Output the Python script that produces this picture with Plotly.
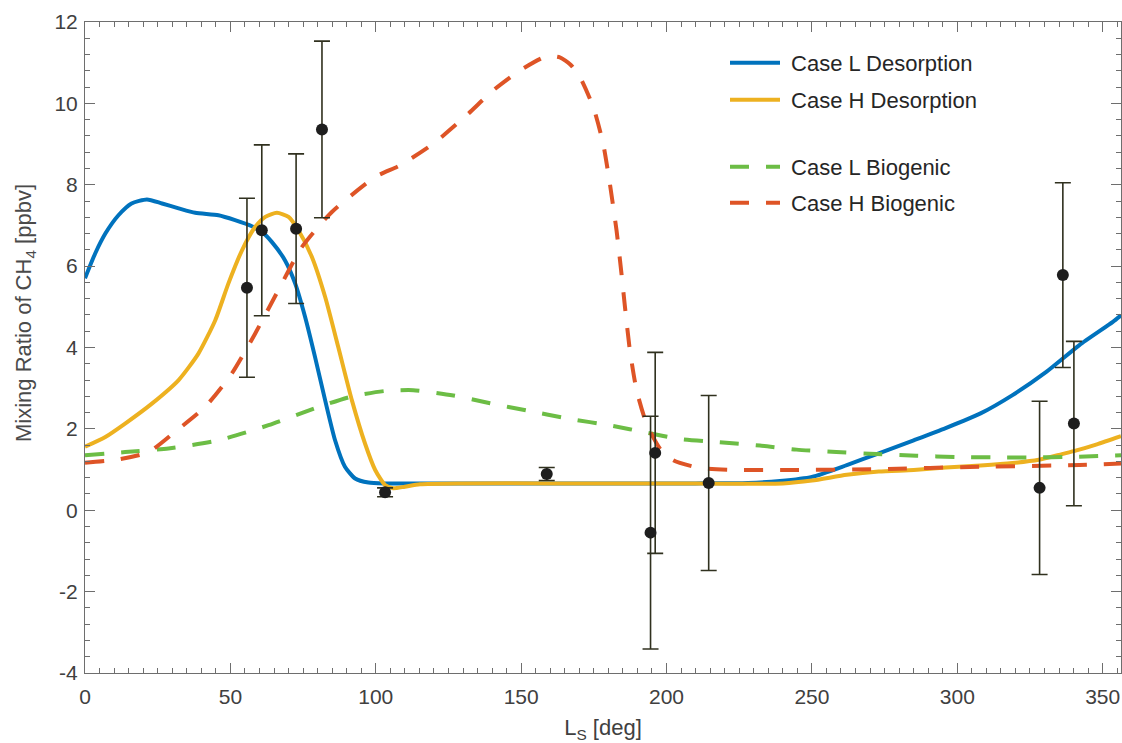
import plotly.graph_objects as go

# ---------------- data ----------------
ls_blue = [0, 3.5, 7, 11.5, 16, 21.3, 26.5, 32.2, 37.9, 45.9, 51.6, 57.4, 60.8, 64.3, 68.8,
           72.3, 75.7, 79.1, 82.6, 86, 89.4, 92.9, 97.5, 103, 120, 150, 180, 210, 228, 239,
           250, 262, 273, 285, 296, 308, 319, 330.6, 342, 353.5, 356.3]
l_desorption = [5.70, 6.31, 6.80, 7.25, 7.54, 7.64, 7.54, 7.42, 7.31, 7.25, 7.13, 6.98, 6.84, 6.59, 6.14,
                5.57, 4.75, 3.77, 2.70, 1.72, 1.07, 0.78, 0.68, 0.66, 0.66, 0.66, 0.66, 0.66, 0.67, 0.72,
                0.82, 1.11, 1.40, 1.72, 2.02, 2.38, 2.83, 3.40, 4.06, 4.63, 4.79]

ls_orange = [0, 7, 13.8, 23, 32.2, 39, 44.8, 49.3, 54, 58.5, 62, 66, 70, 73.4, 78, 82.6, 87.1,
             91.8, 96.3, 99.8, 103.2, 106, 110, 115.2, 130, 160, 200, 240, 250, 262, 273, 285,
             296, 308, 319, 328, 336, 341, 348, 356.3]
h_desorption = [1.56, 1.80, 2.13, 2.62, 3.20, 3.85, 4.67, 5.57, 6.39, 6.96, 7.21, 7.31, 7.21, 6.88, 6.23,
                5.24, 4.01, 2.70, 1.64, 0.99, 0.62, 0.54, 0.58, 0.64, 0.66, 0.66, 0.66, 0.66, 0.73, 0.87,
                0.95, 0.99, 1.05, 1.10, 1.16, 1.24, 1.38, 1.47, 1.62, 1.82]

ls_green = [0, 13.8, 28.7, 45.9, 63.1, 80.3, 92, 103, 112.9, 126.7, 139.3, 152, 165.6, 181.7,
            193.1, 204.6, 218.3, 232.1, 244.7, 258.4, 272.2, 285.9, 299.7, 313.4, 326, 338.6, 356.3]
l_biogenic = [1.35, 1.43, 1.52, 1.72, 2.09, 2.54, 2.80, 2.93, 2.95, 2.82, 2.63, 2.45, 2.26, 2.07,
              1.91, 1.75, 1.67, 1.59, 1.49, 1.43, 1.38, 1.34, 1.31, 1.30, 1.30, 1.31, 1.35]

ls_red = [0, 11.5, 21.9, 31, 41.3, 50.5, 58.5, 66.5, 74.6, 84.9, 99.8, 108.4, 119.8, 131.3, 140.4,
          149.6, 158.8, 163.3, 167, 170.2, 174.8, 178.2, 180.5, 182.8, 184.5, 185.7, 187.4, 189.7,
          193.1, 197.7, 202.3, 211.4, 222.9, 243.5, 273.3, 307.7, 342, 356.3]
h_biogenic = [1.17, 1.25, 1.43, 1.93, 2.54, 3.36, 4.34, 5.41, 6.47, 7.33, 8.19, 8.48, 9.01, 9.71, 10.32,
              10.81, 11.16, 11.13, 10.95, 10.65, 9.91, 9.01, 8.03, 6.88, 5.82, 5.00, 3.93, 2.95,
              2.13, 1.52, 1.23, 1.04, 0.99, 0.99, 1.01, 1.07, 1.11, 1.15]

obs_ls = [55.7, 60.8, 72.6, 81.5, 103.2, 158.8, 194.5, 196.1, 214.5, 328.3, 336.3, 340.1]
obs_ch4 = [5.47, 6.88, 6.92, 9.36, 0.44, 0.89, -0.55, 1.41, 0.67, 0.55, 5.78, 2.13]
obs_err = [2.20, 2.10, 1.84, 2.17, 0.11, 0.16, 2.86, 2.47, 2.15, 2.13, 2.27, 2.02]

x_ticks = [0, 50, 100, 150, 200, 250, 300, 350]
y_ticks = [-4, -2, 0, 2, 4, 6, 8, 10, 12]

# ---------------- style ----------------
BLUE, ORANGE, GREEN, RED = "#0072BD", "#EDB120", "#6cbd45", "#DE5426"
FONT = "Liberation Sans, Arial, Helvetica, sans-serif"
AX = "#6e6e6e"
DASH = "19px,17px"

W, H = 1122, 743
ML, MR, MT, MB = 85, 1, 22, 70
PW = W - ML - MR
PH = H - MT - MB

fig = go.Figure()
curves = [
    (ls_blue, l_desorption, "Case L Desorption", BLUE, "solid", "legend"),
    (ls_orange, h_desorption, "Case H Desorption", ORANGE, "solid", "legend2"),
    (ls_green, l_biogenic, "Case L Biogenic", GREEN, DASH, "legend3"),
    (ls_red, h_biogenic, "Case H Biogenic", RED, DASH, "legend4"),
]
for xs, ys, name, col, dash, leg in curves:
    fig.add_trace(go.Scatter(
        x=xs, y=ys, name="\u00a0" + name, mode="lines",
        line=dict(color=col, width=4, dash=dash, shape="spline", smoothing=0.6),
        legend=leg,
    ))

fig.add_trace(go.Scatter(
    x=obs_ls, y=obs_ch4, mode="markers", showlegend=False,
    marker=dict(color="#1e1e1e", size=12),
    error_y=dict(type="data", array=obs_err, visible=True, color="#30311f", thickness=1.6, width=8),
))

def px(p):   # page pixel x -> paper x
    return (p - ML) / PW
def py(p):   # page pixel y -> paper y
    return (H - MB - p) / PH

leg_common = dict(xanchor="left", yanchor="middle", bgcolor="rgba(0,0,0,0)",
                  font=dict(family=FONT, size=22, color="#262626"), itemwidth=50,
                  borderwidth=0)
lx = px(725)

fig.update_layout(
    width=W, height=H,
    margin=dict(l=ML, r=MR, t=MT, b=MB),
    paper_bgcolor="white", plot_bgcolor="white",
    font=dict(family=FONT, color="#404040"),
    legend=dict(x=lx, y=py(63), **leg_common),
    legend2=dict(x=lx, y=py(100), **leg_common),
    legend3=dict(x=lx, y=py(167), **leg_common),
    legend4=dict(x=lx, y=py(203), **leg_common),
    xaxis=dict(
        range=[0, 356.3], tickvals=x_ticks, ticktext=[str(v) for v in x_ticks],
        ticks="inside", ticklen=10, tickcolor=AX, tickwidth=1,
        showline=True, linecolor=AX, linewidth=1, mirror="ticks",
        showgrid=False, zeroline=False,
        minor=dict(dtick=5, ticklen=5, tickcolor=AX, ticks="inside", showgrid=False),
        tickfont=dict(size=21, color="#404040"), ticklabelstandoff=5,
        title=dict(text="L<sub>S</sub> [deg]", font=dict(size=22, color="#404040"), standoff=27),
        automargin=False,
    ),
    yaxis=dict(
        range=[-4, 12], tickvals=y_ticks, ticktext=[str(v) for v in y_ticks],
        ticks="inside", ticklen=10, tickcolor=AX, tickwidth=1,
        showline=True, linecolor=AX, linewidth=1, mirror="ticks",
        showgrid=False, zeroline=False,
        minor=dict(dtick=0.4, ticklen=5, tickcolor=AX, ticks="inside", showgrid=False),
        tickfont=dict(size=21, color="#404040"), ticklabelstandoff=2,
        automargin=False,
    ),
    annotations=[dict(
        text="Mixing Ratio of CH<sub>4</sub> [ppbv]", textangle=-90,
        xref="paper", yref="paper", x=px(25), y=py(313),
        xanchor="center", yanchor="middle", showarrow=False,
        font=dict(family=FONT, size=22, color="#4a4a4a"),
    )],
)

# remove the default 8px page margin so the figure fills the 1122x743 window exactly
fig.write_html("out.html",
               config={"displayModeBar": False},
               post_script="document.body.style.margin='0px';document.body.style.overflow='hidden';")
